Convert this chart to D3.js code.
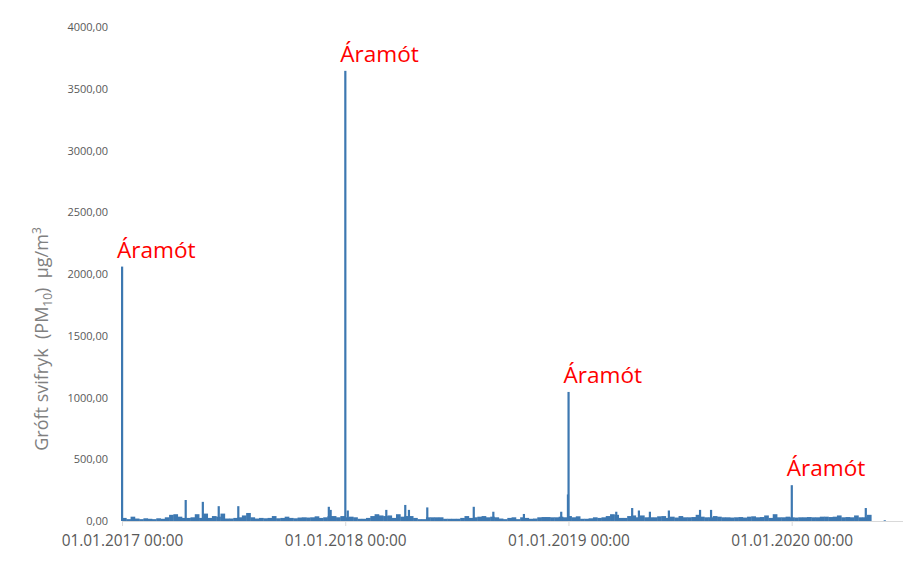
<!DOCTYPE html>
<html>
<head>
<meta charset="utf-8">
<script src="https://cdn.jsdelivr.net/npm/d3@7"></script>
<style>
  html, body { margin: 0; padding: 0; background: #ffffff; }
  svg { display: block; }
</style>
</head>
<body>
<svg id="chart" width="903" height="562"></svg>
<script>
// ---------------- DATA ----------------
const weekStart = "2017-01-01";
// weekly background level of PM10 (µg/m³), one value per week from weekStart
const weeklyValues = [
  25,15,35,20,15,22,18,15,22,18,
  30,50,55,35,25,25,30,55,25,60,
  25,40,35,60,20,20,25,30,45,65,
  30,20,25,22,25,40,22,25,35,25,
  22,28,30,28,30,38,25,30,40,40,
  30,40,
  30,35,30,18,18,25,40,55,45,40,
  45,25,55,35,40,40,25,15,15,30,
  30,30,30,18,18,18,18,25,40,25,
  30,35,40,30,35,30,20,15,25,30,
  15,30,25,18,20,30,32,32,30,30,
  35,30,40,
  30,38,18,18,22,30,25,30,40,55,
  50,25,25,40,45,30,45,30,30,30,
  38,40,25,35,28,40,30,30,32,50,
  35,30,30,40,35,30,30,28,30,32,
  28,35,38,30,32,45,25,55,30,30,
  35,30,
  28,30,30,32,30,30,35,35,32,35,
  45,30,32,30,45,30,30,50
];
// short-lived peaks (hourly maxima)
const peakDates = [
  "2017-01-01","2017-04-15","2017-05-13","2017-06-08","2017-07-10","2017-12-05","2017-12-08",
  "2018-01-01","2018-01-05","2018-03-09","2018-04-09","2018-04-15","2018-05-15","2018-07-30",
  "2018-08-31","2018-10-20","2018-12-20","2018-12-31","2019-01-01","2019-03-20","2019-04-15",
  "2019-04-26","2019-05-14","2019-06-14","2019-08-04","2019-08-22","2020-01-01","2020-05-01",
  "2020-06-01"
];
const peakValues = [
  2060,170,155,120,120,115,90,
  3645,85,90,130,90,110,115,
  75,57,75,215,1045,75,105,
  85,75,85,90,90,290,105,
  6
];
// annotations
const noteDates = ["2017-01-01","2018-01-01","2019-01-01","2020-01-01"];
const noteValues = [2060,3645,1045,290];
const noteText = "Áramót";
// axes
const xTickDates = ["2017-01-01","2018-01-01","2019-01-01","2020-01-01"];
const xDomain = ["2017-01-01","2020-07-01"];
const yTicks = [0,500,1000,1500,2000,2500,3000,3500,4000];
const yDomain = [0,4000];

// ---------------- CHART ----------------
const parse = d3.utcParse("%Y-%m-%d");
const svg = d3.select("#chart");
const barColor = "#3d78b1";

const x = d3.scaleUtc().domain(xDomain.map(parse)).range([122, 903]);
const y = d3.scaleLinear().domain(yDomain).range([521, 27]);

const start = parse(weekStart);
const weekly = weeklyValues.map((v, i) => ({
  d0: d3.utcDay.offset(start, i * 7),
  d1: d3.utcDay.offset(start, (i + 1) * 7),
  v
}));

const plot = svg.append("g");

plot.selectAll("rect.week").data(weekly).enter().append("rect")
  .attr("class", "week")
  .attr("x", d => x(d.d0))
  .attr("width", d => x(d.d1) - x(d.d0) + 0.4)
  .attr("y", d => y(d.v))
  .attr("height", d => y(0) - y(d.v))
  .attr("fill", barColor);

const peaks = peakDates.map((d, i) => ({ d: parse(d), v: peakValues[i] }));
plot.selectAll("rect.peak").data(peaks).enter().append("rect")
  .attr("class", "peak")
  .attr("x", d => x(d.d) - 1)
  .attr("width", 2.2)
  .attr("y", d => y(d.v))
  .attr("height", d => y(0) - y(d.v))
  .attr("fill", barColor);

// x axis
const xAxis = d3.axisBottom(x)
  .tickValues(xTickDates.map(parse))
  .tickFormat(d3.utcFormat("%d.%m.%Y %H:%M"))
  .tickSizeInner(5)
  .tickSizeOuter(0)
  .tickPadding(9);
const gx = svg.append("g").attr("transform", "translate(0,521)").call(xAxis);
gx.select(".domain").attr("stroke", "#d9d9d9").attr("stroke-width", 1);
gx.selectAll(".tick line").attr("stroke", "#d9d9d9");
gx.selectAll(".tick text")
  .attr("fill", "#595959")
  .style("font-family", "'Open Sans', sans-serif")
  .style("font-size", "15.4px");

// y axis (labels only)
const fmtY = v => d3.format(".2f")(v).replace(".", ",");
const yAxis = d3.axisLeft(y).tickValues(yTicks).tickFormat(fmtY).tickSize(0).tickPadding(0);
const gy = svg.append("g").attr("transform", "translate(108,0)").call(yAxis);
gy.select(".domain").remove();
gy.selectAll(".tick text")
  .attr("fill", "#595959")
  .style("font-family", "'Open Sans', sans-serif")
  .style("font-size", "11px");

// y axis title
const title = svg.append("text")
  .attr("transform", "translate(48,339) rotate(-90)")
  .attr("text-anchor", "middle")
  .attr("fill", "#808080")
  .style("white-space", "pre")
  .attr("xml:space", "preserve")
  .style("font-family", "'Open Sans', sans-serif")
  .style("font-size", "18px");
title.append("tspan").text("Gróft svifryk  (PM");
title.append("tspan").text("10").attr("font-size", "12px").attr("dy", 4);
title.append("tspan").text(")  µg/m").attr("dy", -4);
title.append("tspan").text("3").attr("font-size", "12px").attr("dy", -7);

// annotations
svg.selectAll("text.note").data(noteDates).enter().append("text")
  .attr("class", "note")
  .attr("x", d => x(parse(d)) - 5)
  .attr("y", (d, i) => y(noteValues[i]) - 9)
  .attr("fill", "#ff0000")
  .style("font-family", "'Open Sans', sans-serif")
  .style("font-size", "22.6px")
  .text(noteText);
</script>
</body>
</html>
